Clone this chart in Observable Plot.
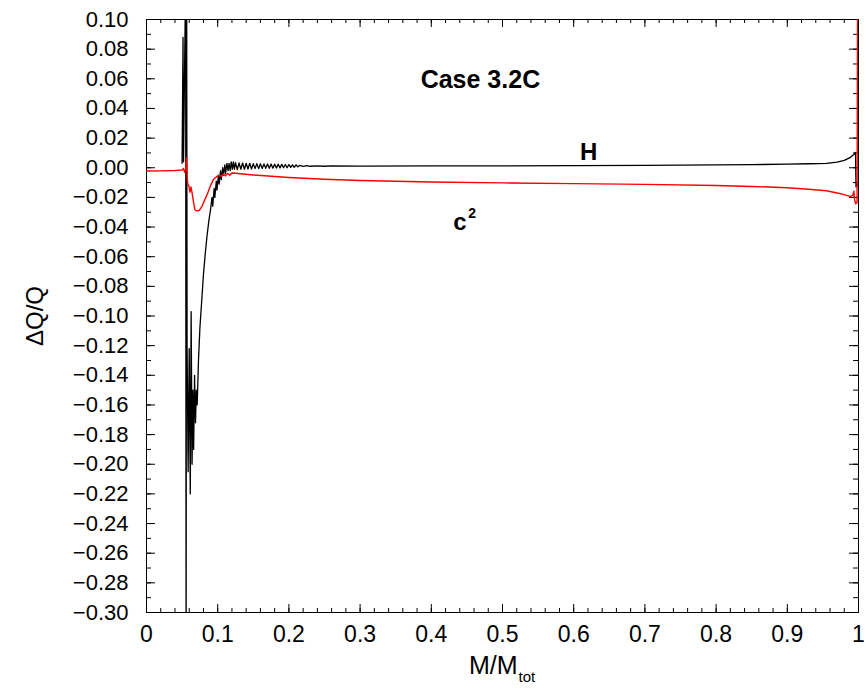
<!DOCTYPE html>
<html>
<head>
<meta charset="utf-8">
<script src="https://cdn.jsdelivr.net/npm/d3@7"></script>
<script src="https://cdn.jsdelivr.net/npm/@observablehq/plot@0.6"></script>
<style>
  html, body { margin: 0; padding: 0; background: #fff; }
  #chart svg { display: block; }
</style>
</head>
<body>
<div id="chart"></div>
<script>
// ---- tick labels ----
const xTicks = [0, 0.1, 0.2, 0.3, 0.4, 0.5, 0.6, 0.7, 0.8, 0.9, 1];
const xTickLabels = ["0", "0.1", "0.2", "0.3", "0.4", "0.5", "0.6", "0.7", "0.8", "0.9", "1"];
const yTicks = [0.10, 0.08, 0.06, 0.04, 0.02, 0.00, -0.02, -0.04, -0.06, -0.08, -0.10, -0.12, -0.14, -0.16, -0.18, -0.20, -0.22, -0.24, -0.26, -0.28, -0.30];
const yTickLabels = ["0.10", "0.08", "0.06", "0.04", "0.02", "0.00", "−0.02", "−0.04", "−0.06", "−0.08", "−0.10", "−0.12", "−0.14", "−0.16", "−0.18", "−0.20", "−0.22", "−0.24", "−0.26", "−0.28", "−0.30"];

// ---- series H (black) ----
const hX = [0.0500, 0.0513, 0.0520, 0.0550, 0.0556, 0.0560, 0.0564, 0.0570, 0.0585, 0.0600, 0.0615, 0.0627, 0.0640, 0.0652, 0.0662, 0.0675, 0.0688, 0.0700, 0.0712, 0.0730, 0.0750, 0.0775, 0.0800, 0.0825, 0.0850, 0.0875, 0.0900,
  0.0920, 0.0930, 0.0950, 0.0960, 0.0980, 0.0990, 0.1010, 0.1020, 0.1040, 0.1050, 0.1070, 0.1080, 0.1100, 0.1110, 0.1130, 0.1145, 0.1160, 0.1175, 0.1190, 0.1205, 0.1220, 0.1235,
  0.1250, 0.1275, 0.1300, 0.1325, 0.1350, 0.1375, 0.1400, 0.1425, 0.1450, 0.1475, 0.1500, 0.1525, 0.1550, 0.1575, 0.1600, 0.1625, 0.1650, 0.1675, 0.1700, 0.1725, 0.1750, 0.1775, 0.1800, 0.1825, 0.1850, 0.1875, 0.1900, 0.1925, 0.1950, 0.1975, 0.2000, 0.2025, 0.2050, 0.2075, 0.2100, 0.2125, 0.2150, 0.2200, 0.2250, 0.2300, 0.2400, 0.2500, 0.2600,
  0.30, 0.40, 0.50, 0.60, 0.70, 0.80, 0.85, 0.90, 0.93, 0.955, 0.970, 0.980, 0.988, 0.993, 0.9958, 0.9965, 0.9975, 0.9985];
const hY = [0.003, 0.088, 0.004, 0.130, -0.350, -0.100, 0.130, -0.120, -0.205, -0.122, -0.220, -0.097, -0.200, -0.150, -0.190, -0.140, -0.172, -0.150, -0.160, -0.130, -0.108, -0.090, -0.072, -0.058, -0.046, -0.036, -0.028,
  -0.020, -0.026, -0.014, -0.020, -0.009, -0.015, -0.005, -0.011, -0.002, -0.008, 0.000, -0.005, 0.002, -0.004, 0.003, -0.002, 0.003, -0.002, 0.004, -0.001, 0.004, -0.001,
  0.0035, -0.0012, 0.0033, -0.0010, 0.0032, -0.0010, 0.0030, -0.0008, 0.0030, -0.0008, 0.0028, -0.0006, 0.0028, -0.0006, 0.0027, -0.0005, 0.0026, -0.0004, 0.0026, -0.0004, 0.0025, -0.0003, 0.0024, -0.0002, 0.0024, -0.0001, 0.0023, 0.0000, 0.0022, 0.0000, 0.0022, 0.0002, 0.0020, 0.0003, 0.0020, 0.0006, 0.0016, 0.0009, 0.0014, 0.0010, 0.0013, 0.0010, 0.0012,
  0.0011, 0.0012, 0.0013, 0.0014, 0.0016, 0.0019, 0.0021, 0.0024, 0.0027, 0.0030, 0.0038, 0.0050, 0.0068, 0.0088, 0.0103, -0.0130, -0.0110, -0.0120];

// ---- series c^2 (red) ----
const cX = [0.000, 0.020, 0.040, 0.050, 0.0520, 0.0535, 0.0550, 0.0563, 0.0570, 0.0580, 0.0595, 0.0610, 0.0625, 0.0640, 0.0660, 0.0680, 0.0700, 0.0740, 0.0780, 0.0820, 0.0860, 0.0900, 0.0940, 0.0980, 0.1020, 0.1050, 0.1080, 0.1110, 0.1140, 0.1170, 0.1200, 0.1250, 0.1500, 0.2000, 0.2500, 0.3000, 0.4000, 0.5000, 0.6000, 0.7000, 0.8000, 0.8500, 0.9000, 0.9300, 0.9550, 0.9750, 0.9890, 0.9920, 0.9935, 0.9945, 0.9960, 0.9980, 0.9988];
const cY = [-0.0022, -0.0021, -0.0019, -0.0015, -0.0005, -0.0030, -0.0010, 0.0070, -0.0060, -0.0110, -0.0120, -0.0165, -0.0130, -0.0170, -0.0230, -0.0285, -0.0290, -0.0288, -0.0260, -0.0215, -0.0170, -0.0120, -0.0080, -0.0062, -0.0050, -0.0058, -0.0042, -0.0055, -0.0038, -0.0050, -0.0035, -0.0037, -0.0049, -0.0066, -0.0078, -0.0086, -0.0096, -0.0102, -0.0107, -0.0112, -0.0120, -0.0126, -0.0135, -0.0145, -0.0155, -0.0175, -0.0195, -0.0185, -0.0158, -0.0215, -0.0243, -0.0235, 0.1300];

// ---- annotations ----
const noteText = ["Case 3.2C", "H", "c"];
const noteX = [0.469, 0.621, 0.431];
const noteY = [0.054, 0.0049, -0.0423];
const supText = ["2"];
const supX = [0.452];
const supY = [-0.0336];

const hData = hX.map((x, i) => ({x, y: hY[i]}));
const cData = cX.map((x, i) => ({x, y: cY[i]}));
const notes = noteText.map((t, i) => ({t, x: noteX[i], y: noteY[i]}));
const sups = supText.map((t, i) => ({t, x: supX[i], y: supY[i]}));
const xLab = new Map(xTicks.map((d, i) => [d, xTickLabels[i]]));
const yLab = new Map(yTicks.map((d, i) => [d, yTickLabels[i]]));

const W = 866, H = 689;
const mL = 146, mR = 8, mT = 19, mB = 77;
const pw = W - mL - mR, ph = H - mT - mB;

const xAll = d3.range(0, 1.0001, 0.02);
const yAll = d3.range(-0.30, 0.1001, 0.01);

const font = "'Liberation Sans', Arial, Helvetica, sans-serif";

const chart = Plot.plot({
  width: W, height: H,
  marginLeft: mL, marginRight: mR, marginTop: mT, marginBottom: mB,
  style: {fontFamily: font, color: "black", background: "white"},
  x: {domain: [0, 1]},
  y: {domain: [-0.30, 0.10]},
  marks: [
    Plot.frame({stroke: "black", strokeWidth: 1}),
    // minor + major ticks, inward, all four sides
    Plot.tickX(xAll, {x: d => d, insetTop: ph - 4, stroke: "black"}),
    Plot.tickX(xAll, {x: d => d, insetBottom: ph - 4, stroke: "black"}),
    Plot.tickX(xTicks, {x: d => d, insetTop: ph - 8, stroke: "black"}),
    Plot.tickX(xTicks, {x: d => d, insetBottom: ph - 8, stroke: "black"}),
    Plot.tickY(yAll, {y: d => d, insetRight: pw - 5, stroke: "black"}),
    Plot.tickY(yAll, {y: d => d, insetLeft: pw - 5, stroke: "black"}),
    Plot.tickY(yTicks, {y: d => d, insetRight: pw - 9, stroke: "black"}),
    Plot.tickY(yTicks, {y: d => d, insetLeft: pw - 9, stroke: "black"}),
    Plot.axisX({ticks: xTicks, tickSize: 0, tickPadding: 13, tickFormat: d => xLab.get(d), fontSize: 23, label: null}),
    Plot.axisY({ticks: yTicks, tickSize: 0, tickPadding: 18, tickFormat: d => yLab.get(d), fontSize: 22, label: null}),
    Plot.line(hData, {x: "x", y: "y", stroke: "black", strokeWidth: 1.3, clip: true}),
    Plot.line(cData, {x: "x", y: "y", stroke: "#ff0000", strokeWidth: 1.4, clip: true}),
    Plot.text(notes.slice(0, 1), {x: "x", y: "y", text: "t", fontSize: 25, fontWeight: "bold", lineAnchor: "bottom", textAnchor: "middle", fill: "black"}),
    Plot.text(notes.slice(1, 2), {x: "x", y: "y", text: "t", fontSize: 24, fontWeight: "bold", lineAnchor: "bottom", textAnchor: "middle", fill: "black"}),
    Plot.text(notes.slice(2, 3), {x: "x", y: "y", text: "t", fontSize: 24, fontWeight: "bold", lineAnchor: "bottom", textAnchor: "start", fill: "black"}),
    Plot.text(sups, {x: "x", y: "y", text: "t", fontSize: 14, fontWeight: "bold", lineAnchor: "bottom", textAnchor: "start", fill: "black"}),
    // axis titles
    Plot.text(["M/M"], {x: () => 0.5, frameAnchor: "bottom", dx: 15, dy: 61, text: d => d, fontSize: 25, textAnchor: "end", lineAnchor: "bottom", fill: "black"}),
    Plot.text(["tot"], {x: () => 0.5, frameAnchor: "bottom", dx: 16, dy: 69, text: d => d, fontSize: 15, textAnchor: "start", lineAnchor: "bottom", fill: "black"}),
    Plot.text(["ΔQ/Q"], {frameAnchor: "left", dx: -111, text: d => d, fontSize: 24, rotate: -90, textAnchor: "middle", lineAnchor: "middle", fill: "black"})
  ]
});
document.getElementById("chart").appendChild(chart);
</script>
</body>
</html>
